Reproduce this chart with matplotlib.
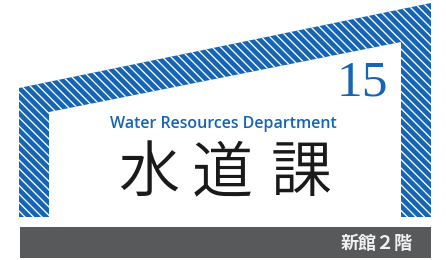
import matplotlib
matplotlib.use("Agg")
import matplotlib.pyplot as plt
import numpy as np
from matplotlib.patches import Polygon, Rectangle

# Sign content
FLOOR_NUMBER = "15"
DEPT_EN = "Water Resources Department"
DEPT_JA = ["水", "道", "課"]
DEPT_JA_X = [149, 222, 301]
LOCATION = "新館２階"

BLUE = "#1565b4"
GRAY = "#58595b"
STRIPE_PERIOD = 8.5  # px, measured horizontally

fig = plt.figure(figsize=(4.46, 2.60), dpi=100)
ax = fig.add_axes([0, 0, 1, 1])
ax.set_xlim(0, 446)
ax.set_ylim(260, 0)
ax.axis("off")

# hatched frame: an upside-down U with a sloping roof
frame = [(19, 217), (19, 88), (431, 3), (431, 217), (401, 217),
         (401, 42), (49, 112), (49, 217)]
band = Polygon(frame, closed=True, facecolor=BLUE, edgecolor="none")
ax.add_patch(band)

# white diagonal stripes (top-left to bottom-right), clipped to the frame
for x0 in np.arange(-260, 446, STRIPE_PERIOD):
    ln, = ax.plot([x0, x0 + 260], [0, 260], color="white", lw=0.95,
                  solid_capstyle="butt")
    ln.set_clip_path(band)

# dark location strip at the bottom
ax.add_patch(Rectangle((20, 227), 411, 31, facecolor=GRAY, edgecolor="none"))

ax.text(388, 96, FLOOR_NUMBER, family="Liberation Serif", fontsize=37,
        color=BLUE, ha="right", va="baseline")
ax.text(223.5, 128, DEPT_EN, family="Open Sans", fontweight="semibold",
        fontsize=11.5, color=BLUE, ha="center", va="baseline")
for ch, x in zip(DEPT_JA, DEPT_JA_X):
    ax.text(x, 174, ch, family=["Noto Sans CJK JP", "DejaVu Sans"],
            fontweight=350, fontsize=44, color="#1a1a1a",
            ha="center", va="center")
ax.text(413, 243.5, LOCATION, family=["Noto Sans CJK JP", "DejaVu Sans"],
        fontweight="bold", fontsize=13, color="#f0f0f0", ha="right", va="center")

fig.savefig("out.png", dpi=100)
